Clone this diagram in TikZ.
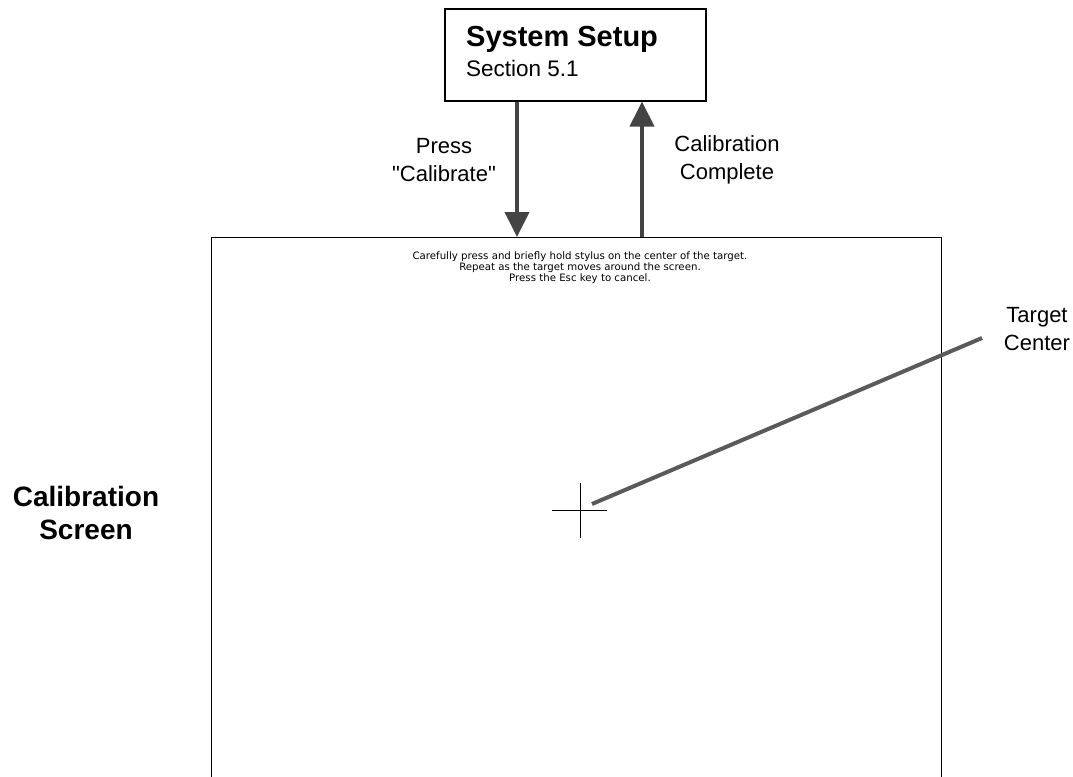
\documentclass[tikz,border=0pt]{standalone}
\usepackage{fontspec}
\setmainfont{Liberation Sans}[Ligatures=TeXOff]
\newfontfamily\scrfont{DejaVu Sans}
\usetikzlibrary{arrows.meta}
\definecolor{arrgray}{HTML}{444444}
\definecolor{leadgray}{HTML}{5A5A5A}
\tikzset{
  flowarrow/.style={draw=arrgray, line width=4pt, -{Triangle[width=24pt,length=25pt]}},
  leader/.style={draw=leadgray, line width=4pt},
  lbl/.style={font=\fontsize{22}{28}\selectfont, align=center, inner sep=0pt},
  biglbl/.style={font=\fontsize{28}{33}\selectfont\bfseries, align=center, inner sep=0pt},
  scrtext/.style={font=\scrfont\fontsize{10.2}{11}\selectfont, align=center, inner sep=0pt},
}
\begin{document}
\begin{tikzpicture}[x=1pt,y=-1pt]
\useasboundingbox (0,0) rectangle (1073,776);
% System setup box
\node[draw, line width=2pt, minimum width=261pt, minimum height=91pt, inner sep=0pt] (setup) at (575,55) {};
\node[anchor=base west, inner sep=0pt, font=\fontsize{29}{33}\selectfont\bfseries] (setuptitle) at (466,47) {System Setup};
\node[anchor=base west, inner sep=0pt, font=\fontsize{22.5}{26}\selectfont] (setupsec) at (466,77) {Section 5.1};
% Calibration screen
\node[draw, line width=1pt, minimum width=730pt, minimum height=600pt, inner sep=0pt, anchor=north west] (screen) at (211,237) {};
\node[scrtext, anchor=north] (instr) at (580,252) {Carefully press and briefly hold stylus on the center of the target.\\Repeat as the target moves around the screen.\\Press the Esc key to cancel.};
% arrows
\coordinate (dn) at (517,0);
\coordinate (up) at (642,0);
\draw[flowarrow] (setup.south -| dn) -- (screen.north -| dn);
\draw[flowarrow] (screen.north -| up) -- (setup.south -| up);
\node[lbl] (press) at (444,160) {Press\\"Calibrate"};
\node[lbl] (complete) at (727,160) {Calibration\\Complete};
% left label
\node[biglbl] (calscreen) at (86,513) {Calibration\\Screen};
% target
\coordinate (tc) at (580,510);
\draw[line width=1pt] ([xshift=-28pt]tc) -- ([xshift=27pt]tc);
\draw[line width=1pt] ([yshift=-28pt]tc) -- ([yshift=27pt]tc);
\coordinate (leadstart) at (592,504);
\node[lbl] (target) at (1037,329) {Target\\Center};
\coordinate (leadend) at (982,338);
\draw[leader] (leadstart) -- (leadend);
\end{tikzpicture}
\end{document}
